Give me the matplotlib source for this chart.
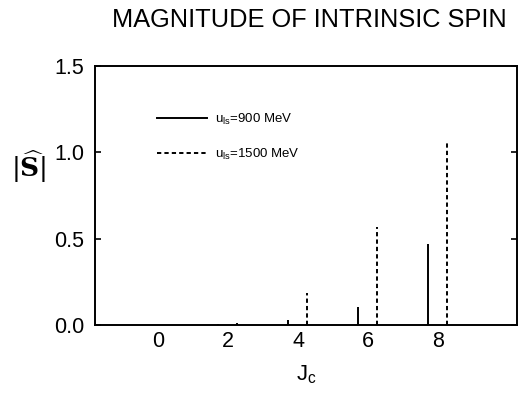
import numpy as np
import matplotlib
matplotlib.use('Agg')
import matplotlib.pyplot as plt
from matplotlib.lines import Line2D

plt.rcParams['font.family'] = ['Liberation Sans', 'DejaVu Sans']
plt.rcParams['mathtext.fontset'] = 'custom'
plt.rcParams['mathtext.rm'] = 'Liberation Sans'
plt.rcParams['mathtext.it'] = 'Liberation Sans'

# --- data ---
jc = np.array([2, 4, 6, 8])
s_900 = [0.005, 0.03, 0.105, 0.47]
s_1500 = [0.01, 0.185, 0.57, 1.054]
labels = [r'u$_{\rm ls}$=900 MeV', r'u$_{\rm ls}$=1500 MeV']
xticks = [0, 2, 4, 6, 8]
yticks = [0.0, 0.5, 1.0, 1.5]

fig = plt.figure(figsize=(5.2, 3.99), dpi=100)
ax = fig.add_axes([0.183, 0.185, 0.811, 0.65])

# spikes: the two series are drawn slightly left/right of each J_c
dash = (0, (2.2, 1.6))
ax.vlines(jc - 0.29, 0, s_900, colors='black', linewidth=1.4, linestyles='solid')
ax.vlines(jc + 0.26, 0, s_1500, colors='black', linewidth=1.4, linestyles=dash)

ax.set_xlim(-1.8, 10.25)
ax.set_ylim(0, 1.5)
ax.set_xticks(xticks)
ax.set_yticks(yticks)
ax.set_yticklabels([f"{v:.1f}" for v in yticks])
ax.tick_params(axis='both', direction='in', length=4, width=1.2, labelsize=15.5)
ax.tick_params(axis='y', right=True, pad=8)
ax.tick_params(axis='x', length=0, pad=4)
for sp in ax.spines.values():
    sp.set_linewidth(1.4)

handles = [Line2D([], [], color='black', lw=1.4),
           Line2D([], [], color='black', lw=1.4, ls=dash)]
ax.legend(handles, labels, loc='upper left', bbox_to_anchor=(0.147, 0.822),
          frameon=False, fontsize=9.5, handlelength=3.8, handletextpad=0.6,
          labelspacing=1.5, borderaxespad=0, borderpad=0)

fig.text(0.594, 0.949, 'MAGNITUDE OF INTRINSIC SPIN', ha='center', va='center', fontsize=18.3)
fig.text(0.055, 0.583, r'$|\widehat{\mathbf{S}}|$', ha='center', va='center', fontsize=19,
         math_fontfamily='dejavuserif')
fig.text(0.59, 0.06, r'J$_{\rm c}$', ha='center', va='center', fontsize=16)

fig.savefig('out.png', dpi=100)
